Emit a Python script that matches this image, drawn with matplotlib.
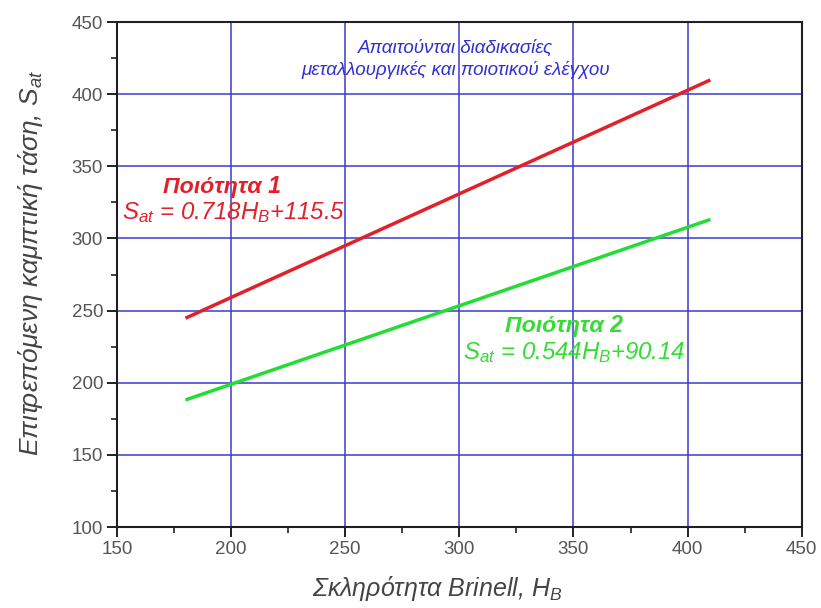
import numpy as np
import matplotlib
matplotlib.use("Agg")
import matplotlib.pyplot as plt
from matplotlib.ticker import MultipleLocator

plt.rcParams['font.family'] = ['Liberation Sans', 'DejaVu Sans']
plt.rcParams['mathtext.fontset'] = 'custom'
plt.rcParams['mathtext.rm'] = 'Liberation Sans:italic'
plt.rcParams['mathtext.it'] = 'Liberation Sans:italic'
plt.rcParams['mathtext.bf'] = 'Liberation Sans:italic:bold'

# Brinell hardness range covered by each grade line
hardness_range = [180, 410]

# Grade 1: S_at = 0.718 H_B + 115.5
grade1_slope, grade1_intercept = 0.718, 115.5
# Grade 2: S_at = 0.544 H_B + 90.14
grade2_slope, grade2_intercept = 0.544, 90.14

x_ticks = [150, 200, 250, 300, 350, 400, 450]
y_ticks = [100, 150, 200, 250, 300, 350, 400, 450]

hb = np.array(hardness_range, dtype=float)
sat1 = grade1_slope * hb + grade1_intercept
sat2 = grade2_slope * hb + grade2_intercept

fig = plt.figure(figsize=(8.21, 6.08), dpi=100)
ax = fig.add_axes([0.1425, 0.1332, 0.834, 0.8306])

ax.set_xlim(150, 450)
ax.set_ylim(100, 450)
ax.set_xticks(x_ticks)
ax.set_yticks(y_ticks)
ax.xaxis.set_minor_locator(MultipleLocator(25))
ax.yaxis.set_minor_locator(MultipleLocator(25))

# grid lines only at interior major ticks
grid_color = '#3a3ad0'
for xv in x_ticks[1:-1]:
    ax.axvline(xv, color=grid_color, lw=1.1, zorder=1)
for yv in y_ticks[1:-1]:
    ax.axhline(yv, color=grid_color, lw=1.1, zorder=1)

ax.plot(hb, sat1, color='#e3202a', lw=2.5, solid_capstyle='butt', zorder=3)
ax.plot(hb, sat2, color='#22dd33', lw=2.5, solid_capstyle='butt', zorder=3)

for sp in ax.spines.values():
    sp.set_linewidth(1.5)
    sp.set_color('#202020')

ax.tick_params(which='major', direction='out', length=7, width=1.4,
               labelsize=13.5, labelcolor='#555555', color='#202020',
               top=False, right=False, pad=3)
ax.tick_params(which='minor', direction='out', length=4, width=1.2,
               color='#202020', top=False, right=False)

ax.set_xlabel('Σκληρότητα Brinell, $H_B$', fontsize=18, style='italic',
              color='#444444', va='center')
ax.xaxis.set_label_coords(0.467, -0.121)
ax.set_ylabel('Επιτρεπόμενη καμπτική τάση, $S_{at}$', fontsize=19,
              style='italic', color='#444444', va='center')
ax.yaxis.set_label_coords(-0.127, 0.523)

ax.text(298.5, 438, 'Απαιτούνται διαδικασίες\nμεταλλουργικές και ποιοτικού ελέγχου',
        ha='center', va='top', fontsize=13.5, style='italic', color='#3030d0',
        linespacing=1.3, zorder=4)

red = '#e3202a'
green = '#33dd33'
ax.text(170, 336, 'Ποιότητα 1', fontsize=16.7, style='italic', weight='bold',
        color=red, ha='left', va='center', zorder=4)
ax.text(152.2, 318, f'$S_{{at}}$ = {grade1_slope}$H_B$+{grade1_intercept}',
        fontsize=17.3, style='italic', color=red, ha='left', va='center', zorder=4)

ax.text(320, 240, 'Ποιότητα 2', fontsize=16.7, style='italic', weight='bold',
        color=green, ha='left', va='center', zorder=4)
ax.text(301.6, 221, f'$S_{{at}}$ = {grade2_slope}$H_B$+{grade2_intercept}',
        fontsize=17.3, style='italic', color=green, ha='left', va='center', zorder=4)

fig.savefig('out.png', dpi=100)
